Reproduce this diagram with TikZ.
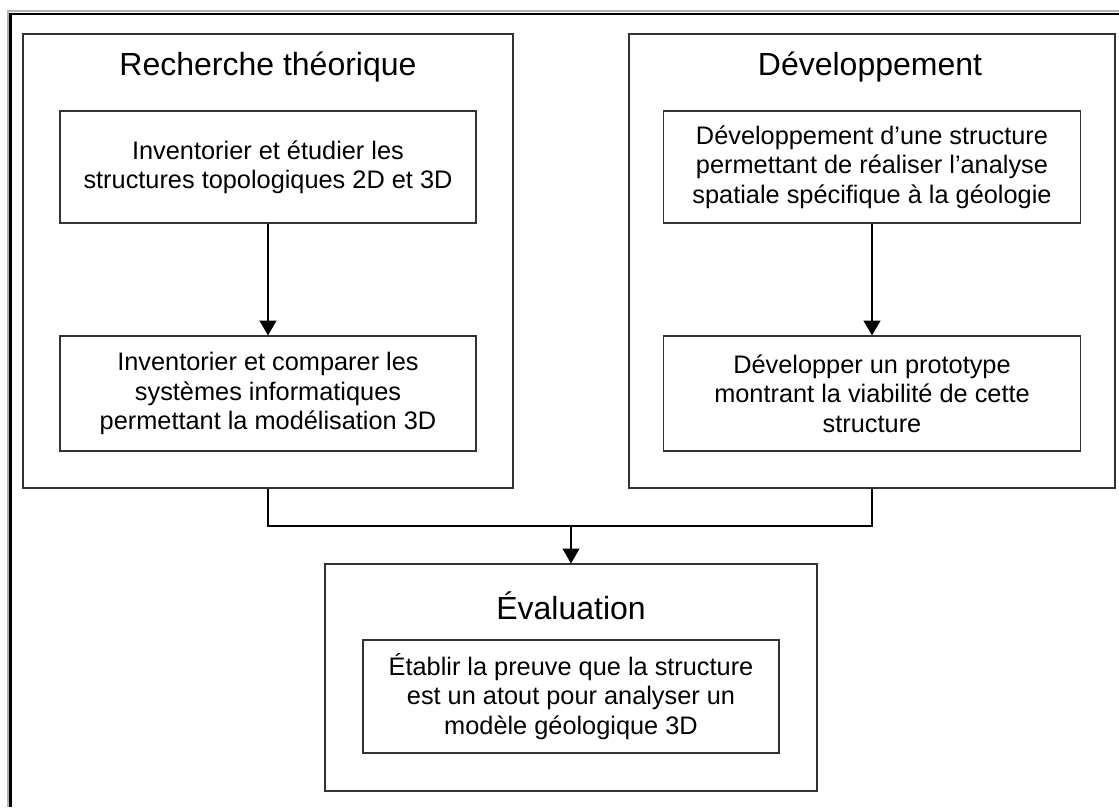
\documentclass[tikz,border=0pt]{standalone}
\usepackage{fontspec}
\setmainfont{Liberation Sans}
\usetikzlibrary{arrows.meta}

\tikzset{
  sz/.style 2 args={minimum width=#1*0.75pt, minimum height=#2*0.75pt},
  panel/.style={draw=black!80, line width=0.9pt, inner sep=0pt},
  taskbox/.style={draw=black!80, line width=0.9pt, inner sep=0pt, align=center,
    font=\fontsize{19}{22}\selectfont},
  heading/.style={anchor=base, font=\fontsize{24}{28}\selectfont},
  link/.style={line width=1.3pt, black},
  flow/.style={link, -{Triangle[length=11pt,width=12.5pt]}},
}

\begin{document}
\begin{tikzpicture}[x=0.75pt, y=-0.75pt]
\useasboundingbox (0,0) rectangle (1119,807);

% window frame (top and left edges)
\draw[black!30, line width=1.7pt, line join=miter] (8,807) -- (8,11) -- (1119,11);
\draw[black, line width=2pt, line join=miter] (10.8,807) -- (10.8,14) -- (1119,14);

% panels
\node[panel, sz={490}{454}] (L) at (268,261) {};
\node[panel, sz={486}{454}] (R) at (872,261) {};
\node[panel, sz={492}{227}] (E) at (571,677.5) {};

\node[heading] (Lt) at (268,75) {Recherche théorique};
\node[heading] (Rt) at (870,75) {Développement};
\node[heading] (Et) at (571,619) {Évaluation};

% tasks
\node[taskbox, sz={416}{112}] (a1) at (268,167)
  {Inventorier et étudier les\\structures topologiques 2D et 3D};
\node[taskbox, sz={416}{115}] (a2) at (268,393.5)
  {Inventorier et comparer les\\systèmes informatiques\\permettant la modélisation 3D};
\node[taskbox, sz={417}{112}] (b1) at (872,167)
  {Développement d’une structure\\permettant de réaliser l’analyse\\spatiale spécifique à la géologie};
\node[taskbox, sz={417}{115}] (b2) at (872,393.5)
  {Développer un prototype\\montrant la viabilité  de cette\\structure};
\node[taskbox, sz={416}{113}] (e1) at (571,696.5)
  {Établir la preuve que la structure\\est un atout pour analyser un\\modèle géologique 3D};

% connectors
\draw[flow] (a1) -- (a2);
\draw[flow] (b1) -- (b2);
\coordinate (j) at (571,526);
\draw[link] (L.south) |- (j) -| (R.south);
\draw[flow] (j) -- (E.north);
\end{tikzpicture}
\end{document}
